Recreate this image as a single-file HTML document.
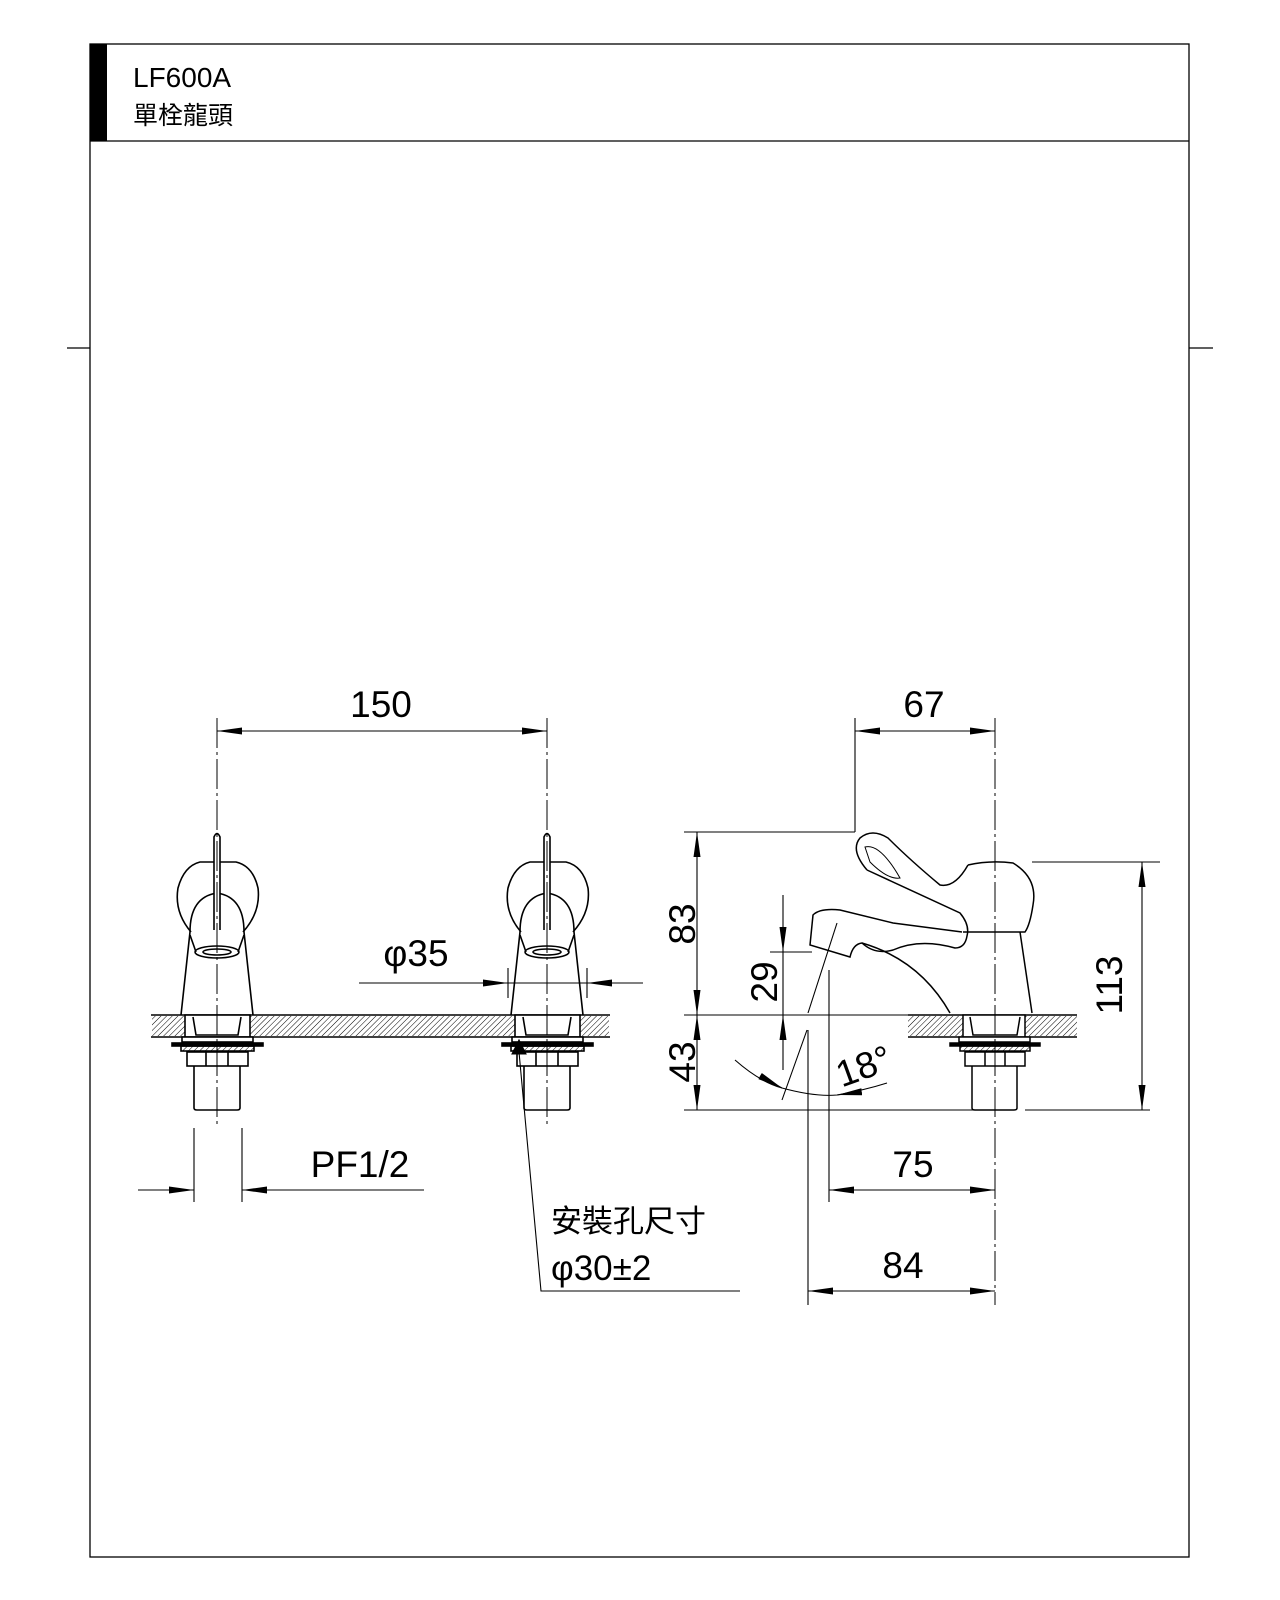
<!DOCTYPE html>
<html><head><meta charset="utf-8"><style>html,body{margin:0;padding:0;background:#fff}svg{display:block}</style></head><body>
<svg width="1280" height="1600" viewBox="0 0 1280 1600" xmlns="http://www.w3.org/2000/svg" font-family="Liberation Sans, Noto Sans CJK TC, sans-serif">
<defs>
<pattern id="h" width="4" height="4" patternUnits="userSpaceOnUse" patternTransform="rotate(45)"><line x1="0" y1="0" x2="0" y2="4" stroke="#000" stroke-width="1"/></pattern>
<marker id="a" markerWidth="26" markerHeight="10" refX="25" refY="5" orient="auto-start-reverse" markerUnits="userSpaceOnUse"><path d="M0,1.5 L25,5 L0,8.5 Z" fill="#000"/></marker>
</defs>
<g fill="none" stroke="#000" stroke-width="1.3">
<rect x="90" y="44" width="1099" height="1513"/>
<line x1="90" y1="141" x2="1189" y2="141"/>
<line x1="67" y1="348" x2="90" y2="348"/><line x1="1189" y1="348" x2="1213" y2="348"/>
</g>
<rect x="90" y="44" width="17" height="97" fill="#000"/>
<text x="133" y="87" font-size="28">LF600A</text>
<text x="133" y="124" font-size="25">單栓龍頭</text>

<g stroke="#000" stroke-width="1.5">
<path d="M151,1015 H610 M151,1037 H610" fill="none"/>
<rect x="152" y="1016" width="457" height="20" fill="url(#h)" stroke="none"/>
<rect x="908" y="1016" width="169" height="20" fill="url(#h)" stroke="none"/>
<path d="M908,1015 H1077 M908,1037 H1077" fill="none"/>
</g>

<g id="ff" fill="none" stroke="#000" stroke-width="1.6">
<path d="M191,932 Q174,912 178,888 Q184,866 200,862 H236 Q253,866 258,888 Q261,912 243,932"/>
<path d="M190,932 Q190,897 217,893 Q244,897 244,932"/>
<path d="M214,930 V837 Q217,830 220,837 V930" fill="#fff"/>
<path d="M190,932 L181,1015 M244,932 L253,1015"/>
<ellipse cx="217" cy="952" rx="22" ry="6"/><ellipse cx="217" cy="952" rx="14" ry="3"/>
<path d="M190,935 L196,952 M244,935 L238,952"/>
<rect x="185" y="1015" width="65" height="22" fill="#fff"/>
<path d="M193,1017 L196,1035 H238 L241,1017"/>
<rect x="182" y="1037" width="71" height="5" fill="#fff"/>
<rect x="172" y="1043" width="91" height="3" fill="#000"/>
<rect x="181" y="1046" width="73" height="5" fill="url(#h)"/>
<rect x="187" y="1052" width="61" height="14"/>
<line x1="206" y1="1052" x2="206" y2="1066"/><line x1="228" y1="1052" x2="228" y2="1066"/>
<path d="M194,1066 V1108 Q194,1110 197,1110 H237 Q240,1110 240,1108 V1066"/>
</g>
<use href="#ff" x="330"/>

<g fill="none" stroke="#000" stroke-width="1.5">
<path d="M867,870 Q850,850 860,838 Q872,828 888,838 Q910,860 940,885 Q955,888 968,865"/>
<path d="M867,870 L960,913 Q970,925 967,936 Q965,948 955,948 Q920,938 893,950 Q875,955 862,943 Q853,944 850,957 L810,945 L813,915 Q820,908 840,910 L893,923 L962,932"/>
<path d="M865,847 Q880,843 900,878 Q888,880 870,862 Z" stroke-width="1"/>
<path d="M862,943 Q920,960 950,1013"/>
<path d="M968,865 Q990,860 1013,863 Q1038,878 1033,905 Q1030,925 1025,932 H963"/>
<path d="M1020,932 L1032,1013"/>
<rect x="963" y="1015" width="62" height="22" fill="#fff"/>
<path d="M970,1017 L973,1035 H1017 L1020,1017"/>
<rect x="959" y="1037" width="71" height="5" fill="#fff"/>
<rect x="950" y="1043" width="90" height="3" fill="#000"/>
<rect x="960" y="1046" width="70" height="5" fill="url(#h)"/>
<rect x="965" y="1052" width="60" height="14"/>
<line x1="985" y1="1052" x2="985" y2="1066"/><line x1="1005" y1="1052" x2="1005" y2="1066"/>
<path d="M972,1066 V1108 Q972,1110 975,1110 H1014 Q1017,1110 1017,1108 V1066"/>
</g>

<g stroke="#000" stroke-width="1" stroke-dasharray="30,4,3,4" fill="none">
<line x1="217" y1="718" x2="217" y2="1128"/><line x1="547" y1="718" x2="547" y2="1128"/>
<line x1="995" y1="718" x2="995" y2="1305"/>
</g>

<g stroke="#000" stroke-width="1.1" fill="none">
<line x1="217" y1="731" x2="547" y2="731" marker-start="url(#a)" marker-end="url(#a)"/>
<line x1="359" y1="983" x2="508" y2="983" marker-end="url(#a)"/>
<line x1="643" y1="983" x2="587" y2="983" marker-end="url(#a)"/>
<line x1="508" y1="983" x2="587" y2="983"/>
<line x1="508" y1="968" x2="508" y2="998"/><line x1="587" y1="968" x2="587" y2="998"/>
<line x1="138" y1="1190" x2="194" y2="1190" marker-end="url(#a)"/>
<line x1="424" y1="1190" x2="242" y2="1190" marker-end="url(#a)"/>
<line x1="194" y1="1128" x2="194" y2="1202"/><line x1="242" y1="1128" x2="242" y2="1202"/>
<path d="M519,1052 L541,1291 H740"/>
<path d="M512,1054 L519,1040 L526,1054 Z" fill="#000"/>

<line x1="855" y1="731" x2="995" y2="731" marker-start="url(#a)" marker-end="url(#a)"/>
<line x1="855" y1="718" x2="855" y2="832"/>
<line x1="684" y1="832" x2="855" y2="832"/>
<line x1="697" y1="832" x2="697" y2="1015" marker-start="url(#a)" marker-end="url(#a)"/>
<line x1="697" y1="1015" x2="697" y2="1110" marker-start="url(#a)" marker-end="url(#a)"/>
<line x1="684" y1="1015" x2="909" y2="1015"/>
<line x1="684" y1="1110" x2="975" y2="1110"/><line x1="1025" y1="1110" x2="1150" y2="1110"/>
<line x1="1032" y1="862" x2="1160" y2="862"/>
<line x1="1142" y1="862" x2="1142" y2="1110" marker-start="url(#a)" marker-end="url(#a)"/>
<line x1="783" y1="895" x2="783" y2="952" marker-end="url(#a)"/>
<line x1="783" y1="1070" x2="783" y2="1015" marker-end="url(#a)"/>
<line x1="783" y1="952" x2="783" y2="1015"/>
<line x1="770" y1="952" x2="812" y2="952"/>
<line x1="829" y1="1190" x2="995" y2="1190" marker-start="url(#a)" marker-end="url(#a)"/>
<line x1="829" y1="970" x2="829" y2="1202"/>
<line x1="808" y1="1291" x2="995" y2="1291" marker-start="url(#a)" marker-end="url(#a)"/>
<line x1="808" y1="1030" x2="808" y2="1305"/>
<line x1="837" y1="923" x2="808" y2="1013"/>
<line x1="807" y1="1030" x2="782" y2="1100"/>
<path d="M735,1060 Q760,1082 782,1088"/>
<path d="M760,1076 L782,1088" marker-end="url(#a)"/>
<path d="M782,1088 Q815,1097 837,1095 Q865,1090 887,1083"/>
<path d="M860,1092 L837,1095" marker-end="url(#a)"/>
</g>

<g font-size="37" text-anchor="middle" fill="#000">
<text x="381" y="717">150</text>
<text x="416" y="966">φ35</text>
<text x="360" y="1177">PF1/2</text>
<text x="924" y="717">67</text>
<text x="913" y="1177">75</text>
<text x="903" y="1278">84</text>
<text transform="translate(695,924) rotate(-90)">83</text>
<text transform="translate(695,1062) rotate(-90)">43</text>
<text transform="translate(777,982) rotate(-90)">29</text>
<text transform="translate(1122,985) rotate(-90)">113</text>
<text transform="translate(868,1078) rotate(-20)">18°</text>
</g>
<text x="551" y="1232" font-size="31" fill="#000">安裝孔尺寸</text>
<text x="551" y="1280" font-size="35" fill="#000">φ30±2</text>
</svg>
</body></html>
